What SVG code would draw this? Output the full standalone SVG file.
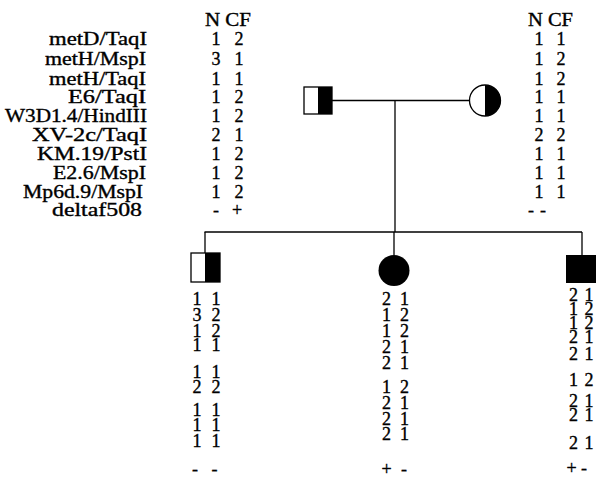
<svg xmlns="http://www.w3.org/2000/svg" width="607" height="480" viewBox="0 0 607 480">
  <style>
    text { font-family: "Liberation Serif", "Times New Roman", serif; font-size: 18px; fill: #000; stroke: #000; stroke-width: 0.35; }
    .gt { text-anchor: middle; }
    .ln { stroke: #000; stroke-width: 1.3; fill: none; }
    .sym { stroke: #000; stroke-width: 1.3; fill: #fff; }
    .blk { fill: #000; stroke: none; }
  </style>
  <rect width="607" height="480" fill="#fff"/>

  <!-- marker names -->
  <g id="markers">
    <text x="49" y="45" textLength="98" lengthAdjust="spacingAndGlyphs">metD/TaqI</text>
    <text x="45" y="65" textLength="101" lengthAdjust="spacingAndGlyphs">metH/MspI</text>
    <text x="49" y="84.5" textLength="97" lengthAdjust="spacingAndGlyphs">metH/TaqI</text>
    <text x="68" y="103" textLength="78" lengthAdjust="spacingAndGlyphs">E6/TaqI</text>
    <text x="5" y="121.5" textLength="142" lengthAdjust="spacingAndGlyphs">W3D1.4/HindIII</text>
    <text x="32" y="141" textLength="115" lengthAdjust="spacingAndGlyphs">XV-2c/TaqI</text>
    <text x="37" y="159.5" textLength="110" lengthAdjust="spacingAndGlyphs">KM.19/PstI</text>
    <text x="53" y="178.5" textLength="93" lengthAdjust="spacingAndGlyphs">E2.6/MspI</text>
    <text x="23" y="197.5" textLength="120" lengthAdjust="spacingAndGlyphs">Mp6d.9/MspI</text>
    <text x="52" y="215.5" textLength="90" lengthAdjust="spacingAndGlyphs">deltaf508</text>
  </g>

  <!-- connectors -->
  <g id="connectors" class="ln">
    <line x1="332" y1="100.5" x2="469.5" y2="100.5"/>
    <line x1="395" y1="100.5" x2="395" y2="232"/>
    <line x1="204.5" y1="232" x2="582" y2="232"/>
    <line x1="205" y1="232" x2="205" y2="253"/>
    <line x1="394" y1="232" x2="394" y2="255"/>
    <line x1="582" y1="232" x2="582" y2="255"/>
  </g>

  <!-- father: carrier male -->
  <g id="father">
    <rect class="sym" x="304" y="87" width="28" height="27"/>
    <rect class="blk" x="318" y="87" width="14" height="27"/>
    <text x="205" y="26" textLength="46" lengthAdjust="spacingAndGlyphs">N CF</text>
    <g class="gt">
      <text y="45"><tspan x="216">1</tspan><tspan x="239">2</tspan></text>
      <text y="65"><tspan x="216">3</tspan><tspan x="239">1</tspan></text>
      <text y="84.5"><tspan x="216">1</tspan><tspan x="239">1</tspan></text>
      <text y="103"><tspan x="216">1</tspan><tspan x="239">2</tspan></text>
      <text y="121.5"><tspan x="216">1</tspan><tspan x="239">2</tspan></text>
      <text y="141"><tspan x="216">2</tspan><tspan x="239">1</tspan></text>
      <text y="159.5"><tspan x="216">1</tspan><tspan x="239">2</tspan></text>
      <text y="178.5"><tspan x="216">1</tspan><tspan x="239">2</tspan></text>
      <text y="197.5"><tspan x="216">1</tspan><tspan x="239">2</tspan></text>
      <text y="215.5"><tspan x="216">-</tspan><tspan x="237">+</tspan></text>
    </g>
  </g>

  <!-- mother: carrier female -->
  <g id="mother">
    <circle class="sym" cx="485" cy="100.5" r="15.5"/>
    <path class="blk" d="M485,85 A15.5,15.5 0 0 1 485,116 Z"/>
    <text x="528" y="26" textLength="45" lengthAdjust="spacingAndGlyphs">N CF</text>
    <g class="gt">
      <text y="45"><tspan x="539">1</tspan><tspan x="561">1</tspan></text>
      <text y="65"><tspan x="539">1</tspan><tspan x="561">2</tspan></text>
      <text y="84.5"><tspan x="539">1</tspan><tspan x="561">2</tspan></text>
      <text y="103"><tspan x="539">1</tspan><tspan x="561">1</tspan></text>
      <text y="121.5"><tspan x="539">1</tspan><tspan x="561">1</tspan></text>
      <text y="141"><tspan x="539">2</tspan><tspan x="561">2</tspan></text>
      <text y="159.5"><tspan x="539">1</tspan><tspan x="561">1</tspan></text>
      <text y="178.5"><tspan x="539">1</tspan><tspan x="561">1</tspan></text>
      <text y="197.5"><tspan x="539">1</tspan><tspan x="561">1</tspan></text>
      <text y="215.5"><tspan x="531">-</tspan><tspan x="543">-</tspan></text>
    </g>
  </g>

  <!-- child 1: carrier son -->
  <g id="child1">
    <rect class="sym" x="191" y="253" width="29" height="29"/>
    <rect class="blk" x="205" y="253" width="15" height="29"/>
    <g class="gt">
      <text y="304.5"><tspan x="197">1</tspan><tspan x="216">1</tspan></text>
      <text y="320.5"><tspan x="197">3</tspan><tspan x="216">2</tspan></text>
      <text y="336.5"><tspan x="197">1</tspan><tspan x="216">2</tspan></text>
      <text y="350.5"><tspan x="197">1</tspan><tspan x="216">1</tspan></text>
      <text y="377.5"><tspan x="197">1</tspan><tspan x="216">1</tspan></text>
      <text y="392.5"><tspan x="197">2</tspan><tspan x="216">2</tspan></text>
      <text y="415.5"><tspan x="197">1</tspan><tspan x="216">1</tspan></text>
      <text y="431"><tspan x="197">1</tspan><tspan x="216">1</tspan></text>
      <text y="446.5"><tspan x="197">1</tspan><tspan x="216">1</tspan></text>
      <text y="475"><tspan x="195">-</tspan><tspan x="214.5">-</tspan></text>
    </g>
  </g>

  <!-- child 2: affected daughter -->
  <g id="child2">
    <circle class="blk" cx="394" cy="270.5" r="15.5"/>
    <g class="gt">
      <text y="305"><tspan x="386.5">2</tspan><tspan x="404.5">1</tspan></text>
      <text y="321"><tspan x="386.5">1</tspan><tspan x="404.5">2</tspan></text>
      <text y="337"><tspan x="386.5">1</tspan><tspan x="404.5">2</tspan></text>
      <text y="353"><tspan x="386.5">2</tspan><tspan x="404.5">1</tspan></text>
      <text y="369"><tspan x="386.5">2</tspan><tspan x="404.5">1</tspan></text>
      <text y="393"><tspan x="386.5">1</tspan><tspan x="404.5">2</tspan></text>
      <text y="409"><tspan x="386.5">2</tspan><tspan x="404.5">1</tspan></text>
      <text y="424.5"><tspan x="386.5">2</tspan><tspan x="404.5">1</tspan></text>
      <text y="440"><tspan x="386.5">2</tspan><tspan x="404.5">1</tspan></text>
      <text y="475"><tspan x="386.5">+</tspan><tspan x="404">-</tspan></text>
    </g>
  </g>

  <!-- child 3: affected son -->
  <g id="child3">
    <rect class="blk" x="566" y="255" width="30" height="28"/>
    <g class="gt">
      <text y="300.5"><tspan x="573.5">2</tspan><tspan x="589">1</tspan></text>
      <text y="315"><tspan x="573.5">1</tspan><tspan x="589">2</tspan></text>
      <text y="328.5"><tspan x="573.5">1</tspan><tspan x="589">2</tspan></text>
      <text y="342.5"><tspan x="573.5">2</tspan><tspan x="589">1</tspan></text>
      <text y="359.5"><tspan x="573.5">2</tspan><tspan x="589">1</tspan></text>
      <text y="386"><tspan x="573.5">1</tspan><tspan x="589">2</tspan></text>
      <text y="406.5"><tspan x="573.5">2</tspan><tspan x="589">1</tspan></text>
      <text y="420.5"><tspan x="573.5">2</tspan><tspan x="589">1</tspan></text>
      <text y="449"><tspan x="573.5">2</tspan><tspan x="589">1</tspan></text>
      <text y="474"><tspan x="571.5">+</tspan><tspan x="584">-</tspan></text>
    </g>
  </g>
</svg>
